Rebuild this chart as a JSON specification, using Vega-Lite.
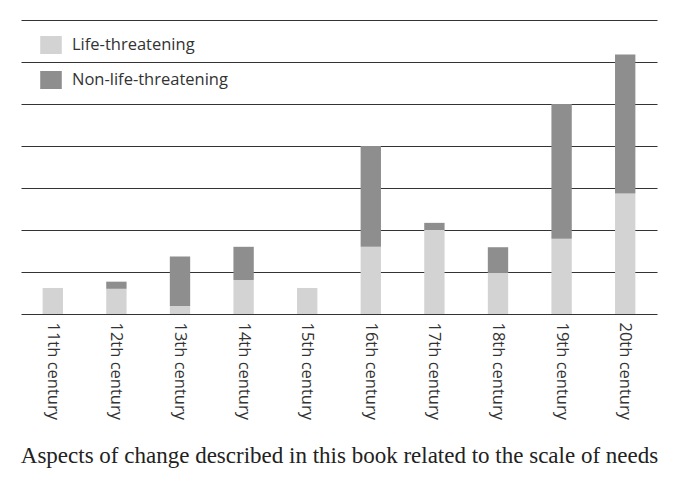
{
  "$schema": "https://vega.github.io/schema/vega-lite/v6.json",
  "width": 636,
  "height": 294,
  "autosize": "none",
  "padding": {"left": 21, "top": 20, "right": 32, "bottom": 188},
  "background": "white",
  "config": {"view": {"stroke": null}},
  "data": {
    "values": [
      {"century": "11th century", "type": "Life-threatening", "value": 0.62},
      {"century": "12th century", "type": "Life-threatening", "value": 0.6},
      {"century": "12th century", "type": "Non-life-threatening", "value": 0.17},
      {"century": "13th century", "type": "Life-threatening", "value": 0.19},
      {"century": "13th century", "type": "Non-life-threatening", "value": 1.18},
      {"century": "14th century", "type": "Life-threatening", "value": 0.81},
      {"century": "14th century", "type": "Non-life-threatening", "value": 0.79},
      {"century": "15th century", "type": "Life-threatening", "value": 0.62},
      {"century": "16th century", "type": "Life-threatening", "value": 1.6},
      {"century": "16th century", "type": "Non-life-threatening", "value": 2.4},
      {"century": "17th century", "type": "Life-threatening", "value": 2.0},
      {"century": "17th century", "type": "Non-life-threatening", "value": 0.17},
      {"century": "18th century", "type": "Life-threatening", "value": 0.99},
      {"century": "18th century", "type": "Non-life-threatening", "value": 0.6},
      {"century": "19th century", "type": "Life-threatening", "value": 1.79},
      {"century": "19th century", "type": "Non-life-threatening", "value": 3.21},
      {"century": "20th century", "type": "Life-threatening", "value": 2.87},
      {"century": "20th century", "type": "Non-life-threatening", "value": 3.31}
    ]
  },
  "mark": {"type": "bar"},
  "encoding": {
    "x": {
      "field": "century",
      "type": "nominal",
      "sort": null,
      "scale": {"paddingInner": 0.68, "paddingOuter": 0.34},
      "axis": {
        "title": "Aspects of change described in this book related to the scale of needs",
        "titleFont": "Liberation Serif",
        "titleFontSize": 23,
        "titleFontWeight": "normal",
        "titleColor": "#222222",
        "titlePadding": 25,
        "labelAngle": 90,
        "labelFont": "Open Sans",
        "labelFontSize": 16.5,
        "labelColor": "#333333",
        "labelPadding": 8,
        "domain": false,
        "ticks": false
      }
    },
    "y": {
      "field": "value",
      "type": "quantitative",
      "stack": "zero",
      "scale": {"domain": [0, 7], "nice": false},
      "axis": {
        "title": null,
        "labels": false,
        "ticks": false,
        "domain": false,
        "values": [0, 1, 2, 3, 4, 5, 6, 7],
        "grid": true,
        "gridColor": "#333333",
        "gridWidth": 1.2,
        "gridOpacity": 1
      }
    },
    "order": {"field": "type", "sort": "ascending"},
    "color": {
      "field": "type",
      "type": "nominal",
      "scale": {
        "domain": ["Life-threatening", "Non-life-threatening"],
        "range": ["#d3d3d3", "#8e8e8e"]
      },
      "legend": {
        "title": null,
        "orient": "none",
        "legendX": 21,
        "legendY": 16,
        "padding": 0,
        "symbolType": "M-1.2,-1H1.2V1H-1.2Z",
        "symbolSize": 324,
        "symbolStrokeWidth": 0,
        "symbolOpacity": 1,
        "labelFont": "Open Sans",
        "labelFontSize": 16.5,
        "labelColor": "#333333",
        "labelOffset": 12,
        "rowPadding": 17
      }
    }
  }
}
